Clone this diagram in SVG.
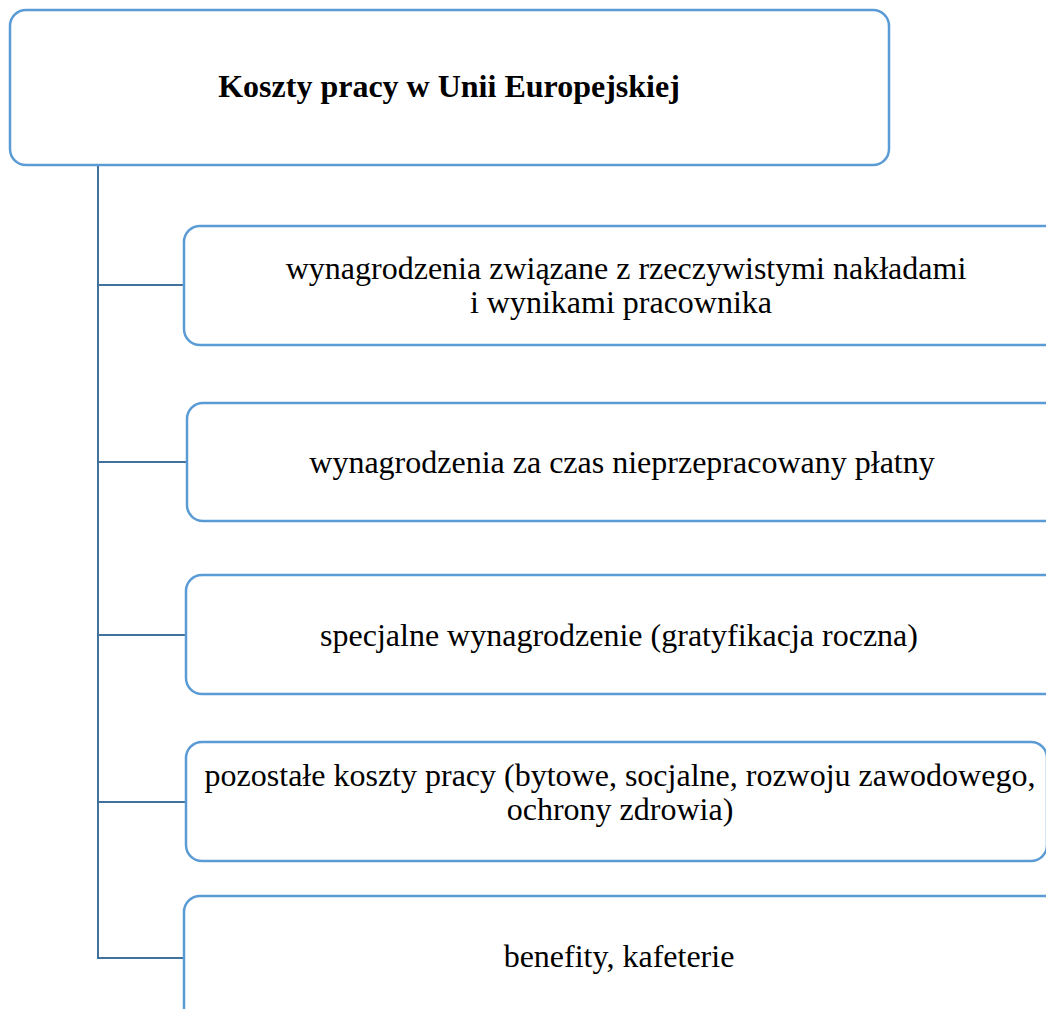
<svg xmlns="http://www.w3.org/2000/svg" width="1046" height="1009" viewBox="0 0 1046 1009">
<style>
.box{fill:#fff;stroke:#5B9BD5;stroke-width:2.5}
.conn{fill:none;stroke:#41719C;stroke-width:2}
.t{font-family:"Liberation Serif","Times New Roman",serif;font-size:32px;fill:#000;text-anchor:middle}
.title{font-family:"Liberation Serif","Times New Roman",serif;font-size:32px;font-weight:bold;fill:#000;text-anchor:middle}
</style>
<rect width="1046" height="1009" fill="#fff"/>
<g id="connectors">
<path class="conn" d="M98,165 V958 H184"/>
<path class="conn" d="M98,285 H184"/>
<path class="conn" d="M98,462 H187"/>
<path class="conn" d="M98,635 H186"/>
<path class="conn" d="M98,802 H186"/>
</g>
<g id="root">
<rect class="box" x="10" y="10" width="879" height="155" rx="16"/>
<text class="title" x="449" y="97">Koszty pracy w Unii Europejskiej</text>
</g>
<g id="n1">
<rect class="box" x="184" y="226" width="876" height="119" rx="16"/>
<text class="t" x="626" y="279">wynagrodzenia związane z rzeczywistymi nakładami</text>
<text class="t" x="621" y="313">i wynikami pracownika</text>
</g>
<g id="n2">
<rect class="box" x="187" y="403" width="873" height="118" rx="16"/>
<text class="t" x="622" y="473">wynagrodzenia za czas nieprzepracowany płatny</text>
</g>
<g id="n3">
<rect class="box" x="186" y="575" width="874" height="119" rx="16"/>
<text class="t" x="619" y="646">specjalne wynagrodzenie (gratyfikacja roczna)</text>
</g>
<g id="n4">
<rect class="box" x="186" y="742" width="861" height="119" rx="16"/>
<text class="t" x="620" y="786">pozostałe koszty pracy (bytowe, socjalne, rozwoju zawodowego,</text>
<text class="t" x="620" y="820">ochrony zdrowia)</text>
</g>
<g id="n5">
<rect class="box" x="184" y="896" width="876" height="130" rx="16"/>
<text class="t" x="619" y="967">benefity, kafeterie</text>
</g>
</svg>
